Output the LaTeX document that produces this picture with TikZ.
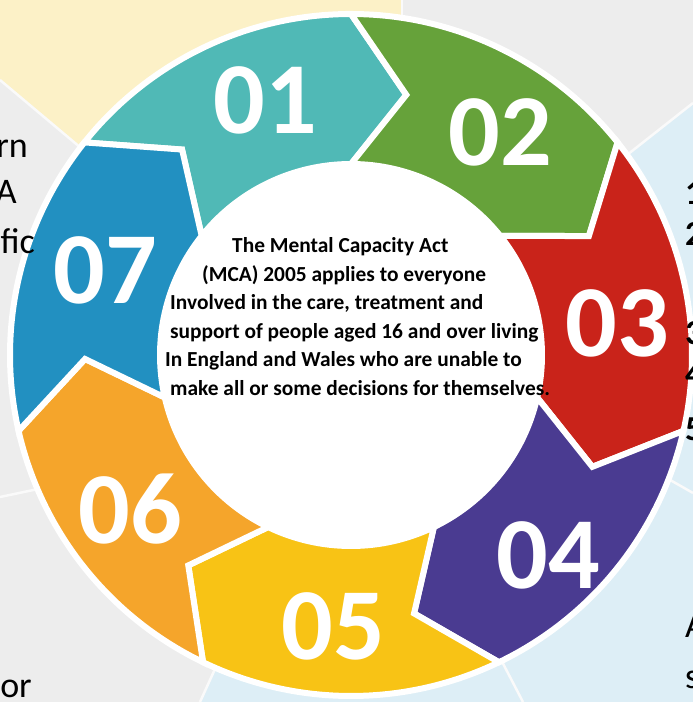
\documentclass[tikz,border=0pt]{standalone}
\usepackage{fontspec}
\setmainfont{Carlito}
\definecolor{bggray}{HTML}{EDEDED}
\definecolor{bgyellow}{HTML}{FCF1C7}
\definecolor{bgblue}{HTML}{DDEEF6}
\definecolor{cteal}{HTML}{50B9B6}
\definecolor{cgreen}{HTML}{66A23A}
\definecolor{cred}{HTML}{C9231A}
\definecolor{cpurple}{HTML}{4A3B91}
\definecolor{cyellow}{HTML}{F8C315}
\definecolor{corange}{HTML}{F5A52B}
\definecolor{cblue}{HTML}{2290C1}
\tikzset{
  panelline/.style={draw=white!70!bggray, line width=2.5pt},
  segfill/.style={fill=#1, draw=white, line width=6pt, line join=miter},
  numlabel/.style={text=white, font=\bfseries\fontsize{102}{102}\selectfont, inner sep=0pt},
  hubtext/.style={anchor=base west, inner sep=0pt, font=\bfseries\fontsize{21.4}{24}\selectfont},
  sidetext/.style={inner sep=0pt, font=\fontsize{36}{40}\selectfont},
  sidebold/.style={inner sep=0pt, font=\bfseries\fontsize{35}{40}\selectfont},
}
\newcommand{\segpath}[3]{% tail angle, head angle, colour
  \path[segfill=#3] (#1:341pt) arc[start angle=#1, end angle=#2, radius=341pt]
    -- ({#2-12}:266pt) -- (#2:191pt)
    arc[start angle=#2, end angle=#1, radius=191pt]
    -- ({#1-12}:266pt) -- cycle;}
\begin{document}
\begin{tikzpicture}[x=1pt,y=1pt]
\useasboundingbox (0,0) rectangle (693,-702);
\begin{scope}
\clip (0,0) rectangle (693,-702);
% background panels
\fill[bggray] (0,0) rectangle (693,-702);
\fill[bgyellow] (0,0) -- (402,0) -- (402,-250) -- (200,-248) -- (0,-80) -- cycle;
\fill[bgblue] (693,-103) -- (500,-255) -- (260,-570) -- (213,-673) -- (200,-702) -- (693,-702) -- cycle;
\draw[panelline] (0,-80) -- (200,-248);
\draw[panelline] (402,0) -- (402,-250);
\draw[panelline] (693,-103) -- (500,-255);
\draw[panelline] (200,-702) -- (260,-570);
\draw[panelline] (0,-497) -- (200,-455);
\draw[panelline] (523,-702) -- (470,-600);
\draw[panelline] (693,-493) -- (600,-440);
% ring
\coordinate (C) at (351,-355);
\fill[white] (C) circle (343pt);
\begin{scope}[shift={(C)}]
\segpath{141.4286}{90}{cteal}
\segpath{90}{38.5714}{cgreen}
\segpath{38.5714}{-12.8571}{cred}
\segpath{-12.8571}{-64.2857}{cpurple}
\segpath{-64.2857}{-115.7143}{cyellow}
\segpath{-115.7143}{-167.1429}{corange}
\segpath{-167.1429}{-218.5714}{cblue}
\end{scope}
\node[circle, fill=white, minimum size=384pt, inner sep=0pt] (hub) at (C) {};
% side texts (cut by the page edge)
\node[sidetext, anchor=base east] (l1) at (28,-157) {rn};
\node[sidetext, anchor=base east] (l2) at (17,-203) {A};
\node[sidetext, anchor=base east] (l3) at (35,-253) {fic};
\node[sidetext, anchor=base east] (l4) at (32,-697) {or};
\node[sidebold, anchor=base west] (r1) at (685,-204) {1};
\node[sidebold, anchor=base west] (r2) at (685,-245) {2};
\node[sidebold, anchor=base west] (r3) at (685,-344) {3};
\node[sidebold, anchor=base west] (r4) at (685,-385) {4};
\node[sidebold, anchor=base west] (r5) at (685,-440) {5};
\node[sidetext, anchor=base west] (r6) at (685,-637) {A};
\node[sidetext, anchor=base west] (r7) at (685,-688) {s};
% numbers
\node[numlabel] (n1) at (265,-100) {01};
\node[numlabel] (n2) at (500,-132) {02};
\node[numlabel] (n3) at (617,-323) {03};
\node[numlabel] (n4) at (548,-555) {04};
\node[numlabel] (n5) at (333,-626) {05};
\node[numlabel] (n6) at (130,-509) {06};
\node[numlabel] (n7) at (105,-270) {07};
% hub text
\node[hubtext] (t1) at (232,-252.5) {The Mental Capacity Act};
\node[hubtext] (t2) at (202,-281) {(MCA) 2005 applies to everyone};
\node[hubtext] (t3) at (170,-309.5) {Involved in the care, treatment and};
\node[hubtext] (t4) at (170,-338) {support of people aged 16 and over living};
\node[hubtext] (t5) at (165,-366.5) {In England and Wales who are unable to};
\node[hubtext] (t6) at (170,-395) {make all or some decisions for themselves.};
\end{scope}
\end{tikzpicture}
\end{document}
